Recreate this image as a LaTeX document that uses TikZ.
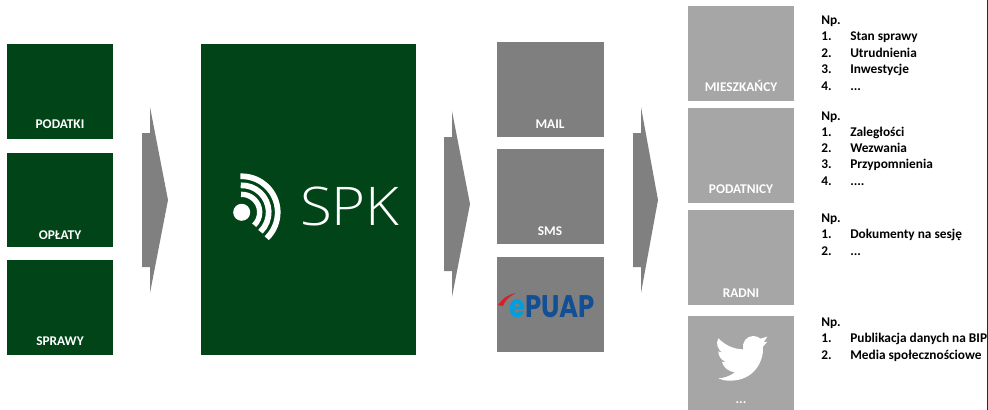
\documentclass[tikz,border=0pt]{standalone}
\usepackage{fontspec}
\setmainfont{Carlito}
\newfontfamily\logofont{Poppins}
\newfontfamily\spkfont{Open Sans Light}
\usetikzlibrary{arrows}
\definecolor{spkgreen}{rgb}{0.,0.267,0.094}
\definecolor{midgrey}{rgb}{0.498,0.498,0.498}
\definecolor{lightgrey}{rgb}{0.651,0.651,0.651}
\definecolor{arrowgrey}{rgb}{0.5,0.5,0.5}
\definecolor{epuapblue}{rgb}{0.07,0.31,0.58}
\definecolor{epuapcyan}{rgb}{0.,0.62,0.87}
\definecolor{epuapred}{rgb}{0.84,0.12,0.16}
\tikzset{
  greenbox/.style={fill=spkgreen,inner sep=0pt,outer sep=0pt},
  midbox/.style={fill=midgrey,inner sep=0pt,outer sep=0pt,minimum width=80.25pt,minimum height=71.25pt},
  lightbox/.style={fill=lightgrey,inner sep=0pt,outer sep=0pt,minimum width=79.5pt,minimum height=71.25pt},
  boxlabel/.style={anchor=base,text=white,font=\fontsize{10pt}{11pt}\selectfont\bfseries,inner sep=0pt},
  listline/.style={anchor=base west,text=black,font=\fontsize{10pt}{11pt}\selectfont\bfseries,inner sep=0pt}
}
% grey arrow: left edge, tip x, middle y, half height
\newcommand{\greyarrow}[4]{\fill[arrowgrey] (#1,#3-67) -- (#1+8,#3-67) -- (#1+8,#3-#4) -- (#2,#3) -- (#1+8,#3+#4) -- (#1+8,#3+67) -- (#1,#3+67) -- cycle;}
\newcommand{\threedots}{...}
\newcommand{\fourdots}{....}
\begin{document}
\begin{tikzpicture}[line cap=butt,line join=miter,x=0.75pt,y=-0.75pt]
\useasboundingbox (0,0) rectangle (988,410);
% left column
\node[greenbox,minimum width=79.5pt,minimum height=71.25pt] (podatki) at (60,91.5) {};
\node[greenbox,minimum width=79.5pt,minimum height=70.5pt] (oplaty) at (60,200) {};
\node[greenbox,minimum width=79.5pt,minimum height=71.25pt] (sprawy) at (60,307.5) {};
\node[boxlabel] (podatkilabel) at (60,128.3) {PODATKI};
\node[boxlabel] (oplatylabel) at (60,239) {OPŁATY};
\node[boxlabel] (sprawylabel) at (60,345.5) {SPRAWY};
\greyarrow{142}{168}{200}{93}
% SPK
\node[greenbox,minimum width=161.25pt,minimum height=233.25pt] (spk) at (308.5,199.5) {};
\fill[white] (241.7,212.3) circle (8.5);
\draw[white,line width=4.3pt] (241.7,212.3) ++(-92:36) arc (-92:46:36);
\draw[white,line width=4.3pt] (241.7,212.3) ++(-92:27) arc (-92:46:27);
\draw[white,line width=4pt] (241.7,212.3) ++(-92:18) arc (-92:46:18);
\node[anchor=base,text=white,font=\fontsize{40pt}{40pt}\spkfont,inner sep=0pt] (spktext) at (350,225.5) {\scalebox{1.09}[1]{SPK}};
\greyarrow{444}{470}{204}{93}
% channels
\node[midbox] (mail) at (550.5,89.5) {};
\node[midbox] (sms) at (550.5,196.5) {};
\node[midbox] (epuap) at (550.5,304) {};
\node[boxlabel] (maillabel) at (550,128) {MAIL};
\node[boxlabel] (smslabel) at (550,235) {SMS};
\fill[epuapred] (498,305) .. controls (503,298) and (509,294) .. (516,293) .. controls (510,296) and (505,300) .. (503,306) -- cycle;
\node[text=epuapblue,font=\fontsize{19.5pt}{20pt}\logofont\bfseries,inner sep=0pt] (epuaplogo) at (552,306.5) {\scalebox{1}[1.2]{\textcolor{epuapcyan}{e}PUAP}};
\greyarrow{633}{658}{200}{93}
% recipients
\node[lightbox] (mieszkancy) at (741,53.5) {};
\node[lightbox] (podatnicy) at (741,155.5) {};
\node[lightbox] (radni) at (741,257.5) {};
\node[lightbox] (inni) at (741,363.5) {};
\node[boxlabel] (mieszkancylabel) at (741,92) {MIESZKAŃCY};
\node[boxlabel] (podatnicylabel) at (741,193) {PODATNICY};
\node[boxlabel] (radnilabel) at (741,297) {RADNI};
\node[boxlabel] (innilabel) at (741,403) {...};
\begin{scope}[shift={(680,310)},x=0.25pt,y=-0.25pt]
\fill[white] (115,85) .. controls (135,105) and (160,118) .. (190,118) .. controls (185,95) and (200,78) .. (220,78) .. controls (230,78) and (237,82) .. (241,86) -- (262,80) -- (251,97) -- (262,95) -- (249,110) .. controls (252,150) and (225,212) .. (150,212) .. controls (135,212) and (125,210) .. (115,205) .. controls (130,205) and (150,198) .. (165,187) .. controls (145,185) and (130,172) .. (126,156) -- (137,155) .. controls (122,150) and (115,137) .. (115,124) -- (127,128) .. controls (112,118) and (107,100) .. (115,85) -- cycle;
\end{scope}
% lists
\node[listline] (np1) at (821,25) {Np.};
\foreach \n/\t/\y in {1/Stan sprawy/41,2/Utrudnienia/57.5,3/Inwestycje/73.5,4/\threedots/90}
  {\node[listline] (numa\n) at (821,\y) {\n.}; \node[listline] (itema\n) at (850,\y) {\t};}
\node[listline] (np2) at (821,120) {Np.};
\foreach \n/\t/\y in {1/Zaległości/136,2/Wezwania/152,3/Przypomnienia/168,4/\fourdots/185}
  {\node[listline] (numb\n) at (821,\y) {\n.}; \node[listline] (itemb\n) at (850,\y) {\t};}
\node[listline] (np3) at (821,222) {Np.};
\foreach \n/\t/\y in {1/Dokumenty na sesję/238.5,2/\threedots/255}
  {\node[listline] (numc\n) at (821,\y) {\n.}; \node[listline] (itemc\n) at (850,\y) {\t};}
\node[listline] (np4) at (821,326) {Np.};
\foreach \n/\t/\y in {1/Publikacja danych na BIP/342.5,2/Media społecznościowe/359}
  {\node[listline] (numd\n) at (821,\y) {\n.}; \node[listline] (itemd\n) at (850,\y) {\t};}
\fill[spkgreen] (986.5,0) rectangle (987.5,410);
\end{tikzpicture}
\end{document}
